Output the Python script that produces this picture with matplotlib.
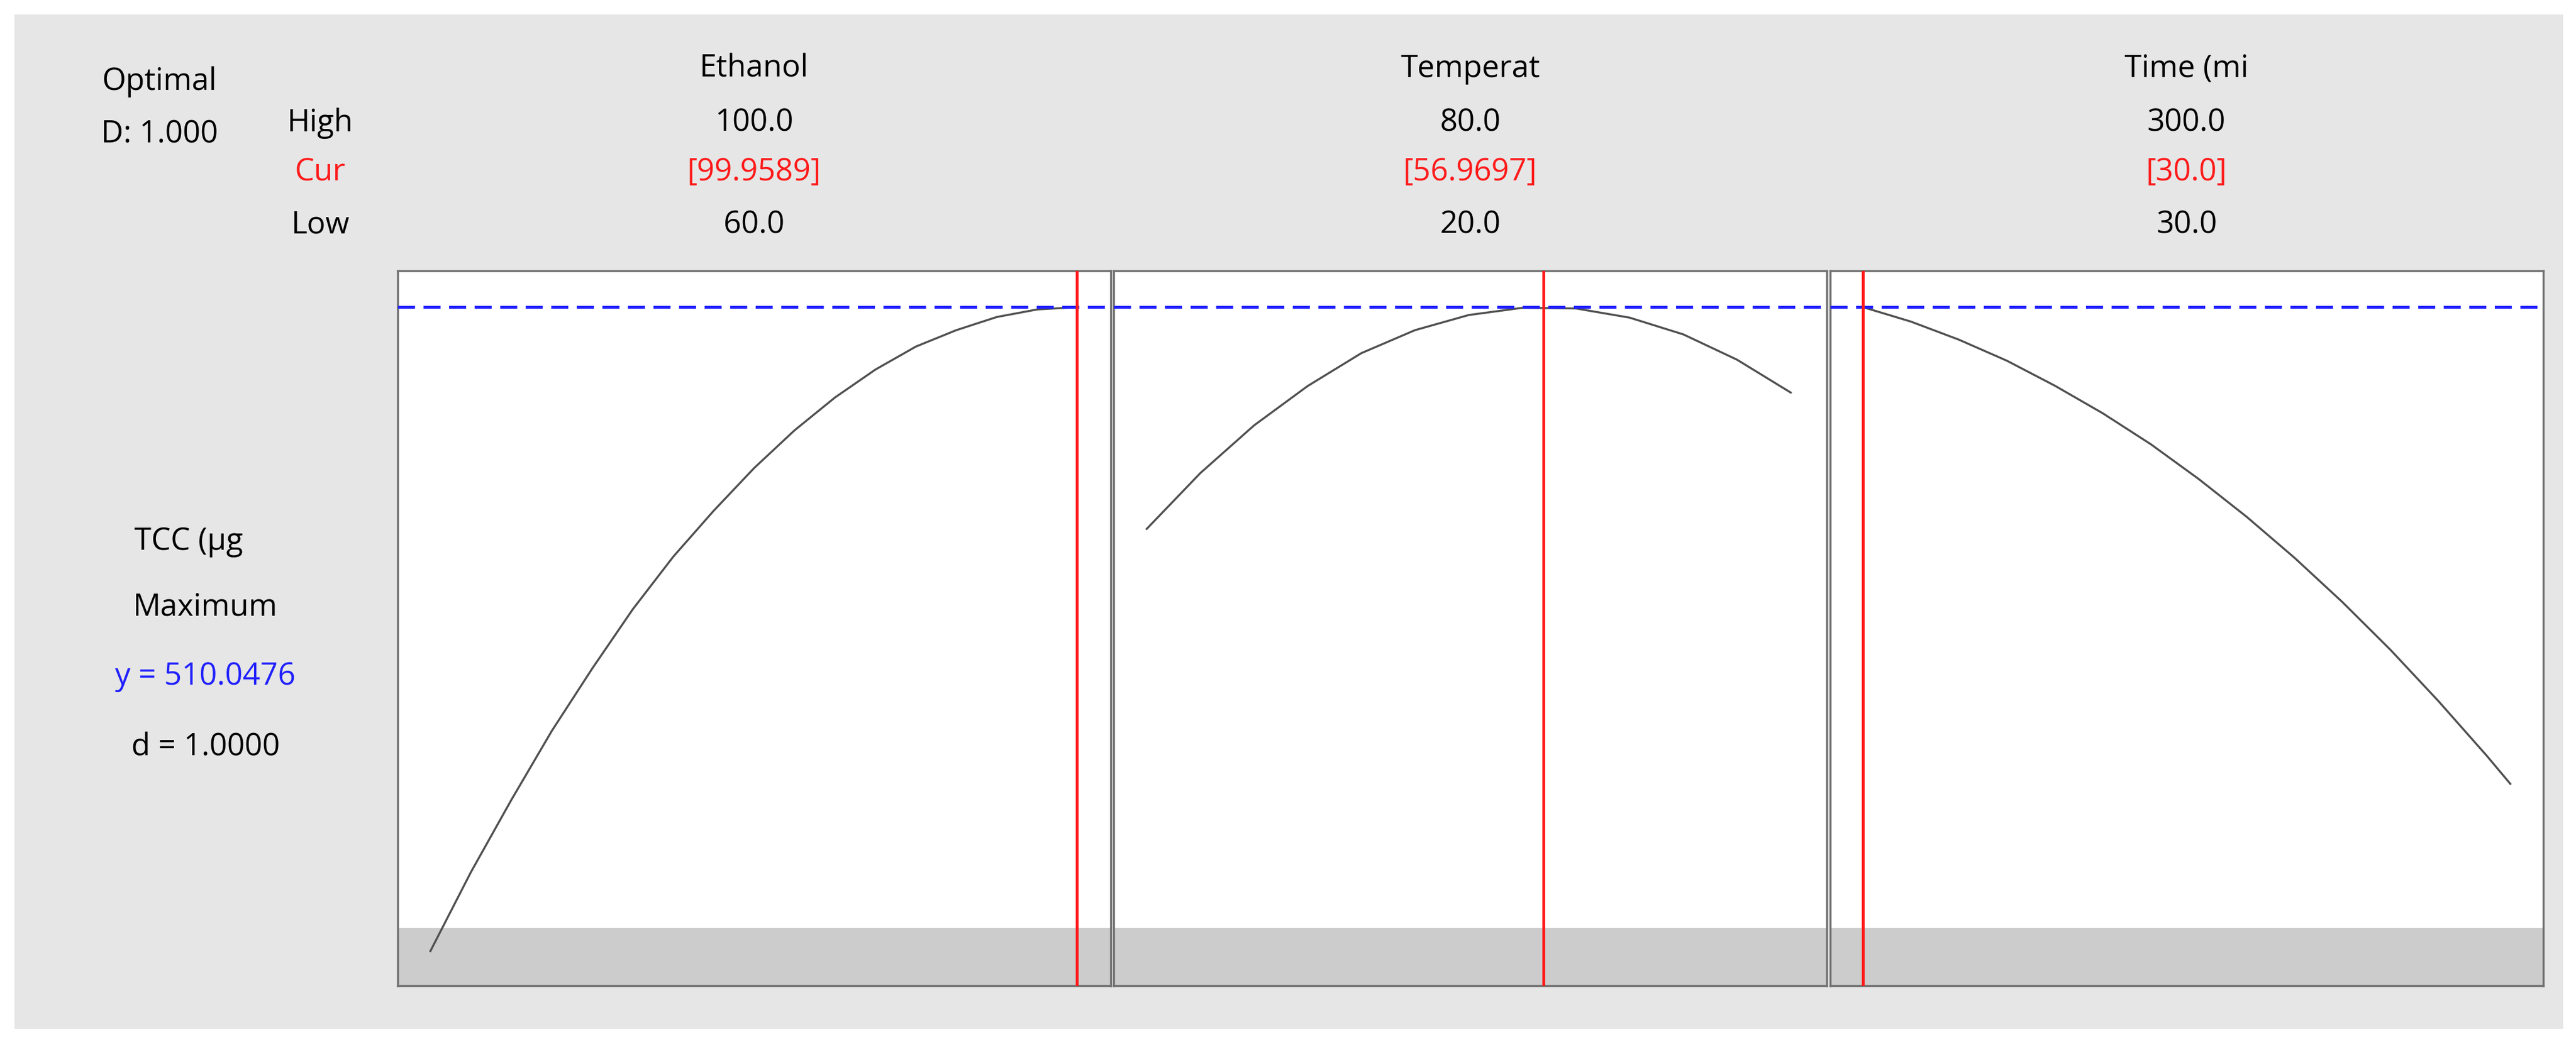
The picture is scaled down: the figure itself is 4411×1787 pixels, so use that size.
import matplotlib.pyplot as plt
from matplotlib.patches import Rectangle

plt.rcParams['font.family'] = ['Open Sans', 'DejaVu Sans']

# factor settings
factors = ['Ethanol', 'Temperat', 'Time (mi']
high = ['100.0', '80.0', '300.0']
cur = ['[99.9589]', '[56.9697]', '[30.0]']
low = ['60.0', '20.0', '30.0']
lo_val = [60.0, 20.0, 30.0]
hi_val = [100.0, 80.0, 300.0]
cur_val = [99.9589, 56.9697, 30.0]

# predicted response curves
eth_x = [60, 62.5, 65, 67.5, 70, 72.5, 75, 77.5, 80, 82.5, 85, 87.5, 90, 92.5, 95, 97.5, 100]
eth_y = [314, 338, 360, 381, 400, 418, 434, 448, 461, 472.5, 482.5, 491, 498, 503, 507, 509.3, 510]
tmp_x = [20, 25, 30, 35, 40, 45, 50, 55, 60, 65, 70, 75, 80]
tmp_y = [442.5, 459.5, 474, 486, 496, 503, 507.6, 509.8, 509.6, 506.8, 501.7, 494, 484]
tim_x = [30, 50, 70, 90, 110, 130, 150, 170, 190, 210, 230, 250, 270, 290, 300]
tim_y = [510, 505.6, 500.1, 493.7, 486.1, 477.7, 468.3, 457.7, 446.2, 433.7,
         420.2, 405.7, 390.1, 373.6, 364.9]
curves = [(eth_x, eth_y), (tmp_x, tmp_y), (tim_x, tim_y)]

y_opt = 510.0476
y_top, y_bot = 521.0, 303.5
y_grey = 321.0

W, H = 1568.0, 635.0
fig = plt.figure(figsize=(44.11, 17.87), dpi=100)
fig.patch.set_facecolor('white')
fig.patches.append(Rectangle((9 / W, 1 - 626 / H), 1551 / W, 617 / H,
                             transform=fig.transFigure, color='#e6e6e6', zorder=-10))

def fx(px):
    return px / W

def fy(py):
    return 1 - py / H

panels = [(242, 676), (678, 1112), (1114, 1548)]
data_px = [(262, 656), (698, 1090), (1134, 1528)]
fs = 38

for i, ((l, r), (dl, dr)) in enumerate(zip(panels, data_px)):
    ax = fig.add_axes([fx(l), fy(600), fx(r - l), (600 - 165) / H])
    # map x-limits so that data range lands on measured pixels
    scale = (hi_val[i] - lo_val[i]) / (dr - dl)
    ax.set_xlim(lo_val[i] - (dl - l) * scale, hi_val[i] + (r - dr) * scale)
    ax.set_ylim(y_bot, y_top)
    ax.axhspan(y_bot, y_grey, color='#cccccc', zorder=0)
    xs, ys = curves[i]
    ax.plot(xs, ys, color='#505050', lw=2.5, zorder=2)
    ax.axhline(y_opt, color='#2020ff', ls=(0, (6, 3)), lw=3.5, zorder=3)
    ax.axvline(cur_val[i], color='#ff1a1a', lw=3.5, zorder=4)
    ax.set_xticks([])
    ax.set_yticks([])
    for s in ax.spines.values():
        s.set_color('#707070')
        s.set_linewidth(2.5)
    cx = fx((l + r) / 2)
    fig.text(cx, fy(42), factors[i], ha='center', va='center', fontsize=fs)
    fig.text(cx, fy(75), high[i], ha='center', va='center', fontsize=fs)
    fig.text(cx, fy(105), cur[i], ha='center', va='center', fontsize=fs, color='#ff1a1a')
    fig.text(cx, fy(137), low[i], ha='center', va='center', fontsize=fs)

fig.text(fx(97), fy(50), 'Optimal', ha='center', va='center', fontsize=fs)
fig.text(fx(97), fy(82), 'D: 1.000', ha='center', va='center', fontsize=fs)
fig.text(fx(195), fy(75), 'High', ha='center', va='center', fontsize=fs)
fig.text(fx(195), fy(105), 'Cur', ha='center', va='center', fontsize=fs, color='#ff1a1a')
fig.text(fx(195), fy(137), 'Low', ha='center', va='center', fontsize=fs)

fig.text(fx(115), fy(330), 'TCC (µg', ha='center', va='center', fontsize=fs)
fig.text(fx(125), fy(370), 'Maximum', ha='center', va='center', fontsize=fs)
fig.text(fx(125), fy(412), 'y = 510.0476', ha='center', va='center', fontsize=fs, color='#2020ff')
fig.text(fx(125), fy(455), 'd = 1.0000', ha='center', va='center', fontsize=fs)

fig.savefig('out.png', dpi=100)
